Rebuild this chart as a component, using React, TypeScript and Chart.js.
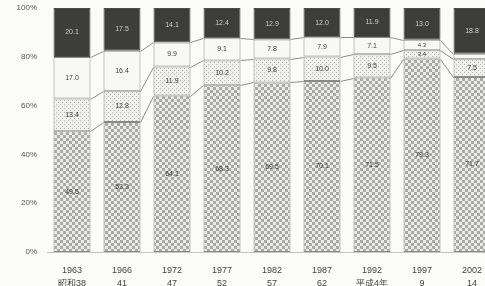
import { useEffect, useRef } from "react";
import { Chart, registerables } from "chart.js";

Chart.register(...registerables);

// Categories: survey year and Japanese era year
const years = ["1963", "1966", "1972", "1977", "1982", "1987", "1992", "1997", "2002"];
const eras = ["昭和38", "41", "47", "52", "57", "62", "平成4年", "9", "14"];

// Stacked shares (%), bottom to top
const seriesBottom = [49.5, 53.3, 64.1, 68.3, 69.5, 70.1, 71.5, 79.3, 71.7];
const seriesDotted = [13.4, 12.8, 11.9, 10.2, 9.8, 10.0, 9.5, 3.4, 7.5];
const seriesWhite = [17.0, 16.4, 9.9, 9.1, 7.8, 7.9, 7.1, 4.3, 2.0];
const seriesDark = [20.1, 17.5, 14.1, 12.4, 12.9, 12.0, 11.9, 13.0, 18.8];

const yTicks = [0, 20, 40, 60, 80, 100];

const FONT = "'Liberation Sans', Arial, sans-serif";

function makePattern(kind: "checker" | "dots"): CanvasPattern | string {
  const p = document.createElement("canvas");
  const g = p.getContext("2d");
  if (!g) return "#ccc";
  if (kind === "checker") {
    p.width = 6;
    p.height = 6;
    g.fillStyle = "#ebebe8";
    g.fillRect(0, 0, 6, 6);
    g.fillStyle = "#a9a9a6";
    g.fillRect(0, 0, 3, 3);
    g.fillRect(3, 3, 3, 3);
  } else {
    p.width = 4;
    p.height = 4;
    g.fillStyle = "#f0f0ed";
    g.fillRect(0, 0, 4, 4);
    g.fillStyle = "#b4b4b0";
    g.fillRect(0, 0, 1, 1);
    g.fillRect(2, 2, 1, 1);
  }
  return g.createPattern(p, "repeat") || "#ccc";
}

const overlayPlugin = {
  id: "overlay",
  afterDatasetsDraw(chart: any) {
    const c: CanvasRenderingContext2D = chart.ctx;
    c.save();
    // connector lines between segment tops
    c.strokeStyle = "#8c8c8a";
    c.lineWidth = 1;
    const n = chart.data.datasets.length;
    for (let i = 0; i < n - 1; i++) {
      const meta = chart.getDatasetMeta(i);
      for (let j = 0; j < meta.data.length - 1; j++) {
        const a = meta.data[j].getProps(["x", "y", "width"], true);
        const b = meta.data[j + 1].getProps(["x", "y", "width"], true);
        c.beginPath();
        c.moveTo(a.x + a.width / 2, Math.round(a.y) + 0.5);
        c.lineTo(b.x - b.width / 2, Math.round(b.y) + 0.5);
        c.stroke();
      }
    }
    // value labels
    c.textAlign = "center";
    c.textBaseline = "middle";
    for (let i = 0; i < n; i++) {
      const meta = chart.getDatasetMeta(i);
      const ds = chart.data.datasets[i];
      meta.data.forEach((el: any, j: number) => {
        const p = el.getProps(["x", "y", "base"], true);
        const h = p.base - p.y;
        if (h < 7) return;
        const small = h < 12;
        c.font = `${small ? 6 : 7}px ${FONT}`;
        c.fillStyle = i === n - 1 ? "#cfcfcc" : "#3a3a3a";
        c.fillText(Number(ds.data[j]).toFixed(1), p.x, (p.y + p.base) / 2);
      });
    }
    c.restore();
  },
};

export default function App() {
  const ref = useRef<HTMLCanvasElement>(null);

  useEffect(() => {
    const canvas = ref.current;
    if (!canvas) return;
    const ctx = canvas.getContext("2d");
    if (!ctx) return;

    const checker = makePattern("checker");
    const dots = makePattern("dots");

    const common = {
      borderColor: "#8a8a88",
      borderWidth: 1,
      borderSkipped: false,
      barPercentage: 0.74,
      categoryPercentage: 1,
    };

    const chart = new Chart(ctx, {
      type: "bar",
      data: {
        labels: years.map((y, i) => [y, eras[i]]),
        datasets: [
          { label: "A", data: seriesBottom, backgroundColor: checker as any, ...common },
          { label: "B", data: seriesDotted, backgroundColor: dots as any, ...common },
          { label: "C", data: seriesWhite, backgroundColor: "#f8f8f5", ...common },
          { label: "D", data: seriesDark, backgroundColor: "#3d3d3c", ...common, borderColor: "#4a4a48" },
        ],
      },
      options: {
        responsive: false,
        animation: false,
        devicePixelRatio: 1,
        layout: { padding: { top: 8, right: 3, left: 0, bottom: 0 } },
        plugins: {
          legend: { display: false },
          tooltip: { enabled: false },
        },
        scales: {
          x: {
            stacked: true,
            afterFit: (scale: any) => {
              scale.height = 38;
              scale.paddingTop = 0;
              scale.paddingBottom = 0;
            },
            grid: { display: false, drawTicks: false },
            border: { display: true, color: "#c4c4c0" },
            ticks: {
              color: "#444",
              font: { family: FONT, size: 9, lineHeight: 1.45 },
              padding: 12,
              maxRotation: 0,
              autoSkip: false,
            },
          },
          y: {
            stacked: true,
            min: 0,
            max: 100,
            afterBuildTicks: (scale: any) => {
              scale.ticks = yTicks.map((v) => ({ value: v }));
            },
            afterFit: (scale: any) => {
              scale.width = 47;
              scale.paddingTop = 0;
              scale.paddingBottom = 0;
            },
            grid: { display: false, drawTicks: false },
            border: { display: false },
            ticks: {
              color: "#555",
              font: { family: FONT, size: 8 },
              padding: 10,
              callback: (v: any) => `${v}%`,
            },
          },
        },
      },
      plugins: [overlayPlugin],
    });

    return () => chart.destroy();
  }, []);

  return (
    <div
      style={{
        position: "fixed",
        left: 0,
        top: 0,
        width: 485,
        height: 286,
        overflow: "hidden",
        background: "#fbfbf8",
      }}
    >
      <canvas ref={ref} width={500} height={290} style={{ display: "block", width: 500, height: 290 }} />
    </div>
  );
}
